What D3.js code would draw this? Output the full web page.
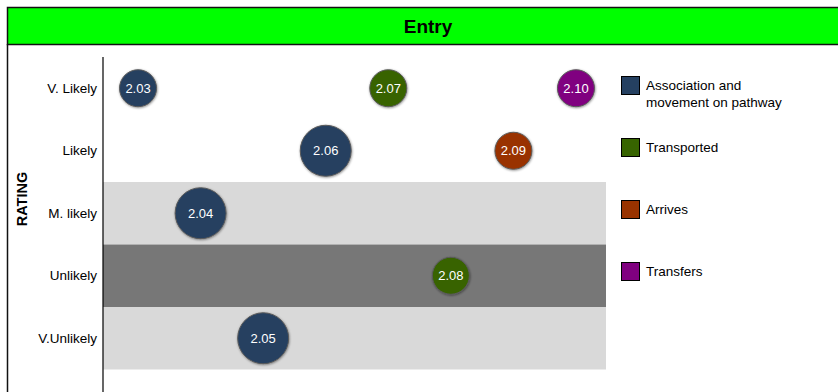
<!DOCTYPE html>
<html>
<head>
<meta charset="utf-8">
<script src="https://cdn.jsdelivr.net/npm/d3@7"></script>
<style>
  body { margin: 0; background: #fff; }
  text { font-family: "Liberation Sans", Arial, sans-serif; }
</style>
</head>
<body>
<svg id="chart" width="838" height="392"></svg>
<script>
// rating rows, top to bottom
var ratings = ["V. Likely", "Likely", "M. likely", "Unlikely", "V.Unlikely"];
var bandFills = ["none", "none", "#d9d9d9", "#777777", "#d9d9d9"];

// bubbles: id, rating, series, size
var ids      = [2.03, 2.04, 2.05, 2.06, 2.07, 2.08, 2.09, 2.10];
var rowOf    = ["V. Likely", "M. likely", "V.Unlikely", "Likely", "V. Likely", "Unlikely", "Likely", "V. Likely"];
var seriesOf = [0, 0, 0, 0, 1, 1, 2, 3];
var sizes    = [1, 2, 2, 2, 1, 1, 1, 1];

var seriesNames = ["Association and\nmovement on pathway", "Transported", "Arrives", "Transfers"];
var seriesColours = ["#254061", "#376400", "#993300", "#800080"];

var svg = d3.select("#chart");

// title bar
svg.append("rect")
  .attr("x", 7.5).attr("y", 7.5)
  .attr("width", 850).attr("height", 37)
  .style("fill", "#00ff00").style("stroke", "#111").style("stroke-width", 1.5);
svg.append("line")
  .attr("x1", 7.5).attr("x2", 7.5).attr("y1", 44).attr("y2", 392)
  .style("stroke", "#111").style("stroke-width", 1.5);
svg.append("text")
  .attr("x", 428).attr("y", 26)
  .attr("dy", "0.36em")
  .attr("text-anchor", "middle")
  .style("font-size", "19px").style("font-weight", "bold")
  .text("Entry");

var x = d3.scaleLinear().domain([2.0244, 2.1048]).range([103, 606]);
var y = d3.scaleBand().domain(ratings).range([57, 369.5]);
var r = d3.scaleLinear().domain([1, 2]).range([18.5, 25.5]);

// bands
svg.append("g").selectAll("rect")
  .data(ratings)
  .enter().append("rect")
  .attr("x", 103)
  .attr("y", function(d){ return y(d); })
  .attr("width", 503)
  .attr("height", y.bandwidth())
  .style("fill", function(d, i){ return bandFills[i]; });

// y axis
var yAxis = svg.append("g")
  .attr("transform", "translate(103,0)")
  .call(d3.axisLeft(y).tickSize(0).tickPadding(6));
yAxis.select(".domain").remove();
yAxis.selectAll("text")
  .style("font-size", "13.5px")
  .style("font-family", "Liberation Sans, Arial, sans-serif")
  .style("fill", "#000");
svg.append("line")
  .attr("x1", 103).attr("x2", 103).attr("y1", 57).attr("y2", 392)
  .style("stroke", "#000").style("stroke-width", 1.2);

svg.append("text")
  .attr("transform", "translate(22,199) rotate(-90)")
  .attr("dy", "0.36em")
  .attr("text-anchor", "middle")
  .style("font-size", "14.5px").style("font-weight", "bold")
  .text("RATING");

// bubbles
var data = ids.map(function(id, i){
  return { id: id, row: rowOf[i], s: seriesOf[i], size: sizes[i] };
});
var defs = svg.append("defs");
defs.append("filter").attr("id", "shadow")
  .attr("x", "-30%").attr("y", "-30%").attr("width", "160%").attr("height", "160%")
  .append("feDropShadow")
  .attr("dx", 0.5).attr("dy", 0.8).attr("stdDeviation", 0.8)
  .attr("flood-color", "#000").attr("flood-opacity", 0.45);

var bubbles = svg.append("g").selectAll("g")
  .data(data)
  .enter().append("g")
  .attr("transform", function(d){
    return "translate(" + x(d.id) + "," + (y(d.row) + y.bandwidth() / 2) + ")";
  });
bubbles.append("circle")
  .attr("r", function(d){ return r(d.size); })
  .style("fill", function(d){ return seriesColours[d.s]; })
  .style("stroke", "#5a5a5a").style("stroke-width", 1)
  .attr("filter", "url(#shadow)");
bubbles.append("text")
  .attr("text-anchor", "middle")
  .attr("dy", "0.36em")
  .style("font-size", "13px")
  .style("fill", "#fff")
  .text(function(d){ return d.id.toFixed(2); });

// legend
var legend = svg.append("g").selectAll("g")
  .data(seriesNames)
  .enter().append("g")
  .attr("transform", function(d, i){ return "translate(621," + (76 + i * 62) + ")"; });
legend.append("rect")
  .attr("x", 0.5).attr("y", 0.5)
  .attr("width", 18).attr("height", 18)
  .style("fill", function(d, i){ return seriesColours[i]; })
  .style("stroke", "#000").style("stroke-width", 1);
legend.append("text")
  .attr("x", 25)
  .attr("y", 9)
  .style("font-size", "13.5px")
  .style("fill", "#000")
  .each(function(d){
    var lines = d.split("\n");
    d3.select(this).selectAll("tspan")
      .data(lines)
      .enter().append("tspan")
      .attr("x", 25)
      .attr("dy", function(l, j){ return j === 0 ? "0.36em" : "1.3em"; })
      .text(function(l){ return l; });
  });
</script>
</body>
</html>
